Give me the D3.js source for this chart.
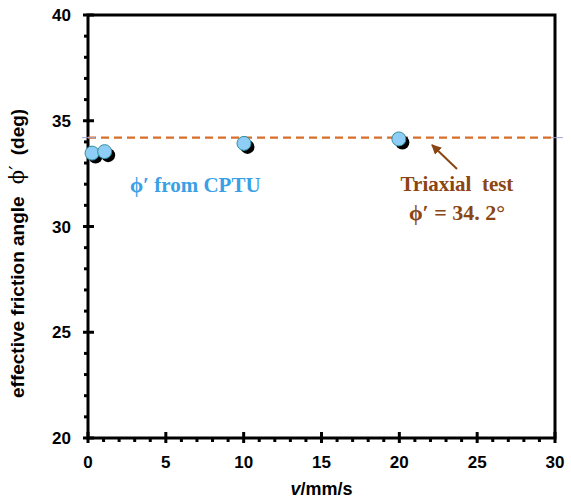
<!DOCTYPE html>
<html>
<head>
<meta charset="utf-8">
<script src="https://cdn.jsdelivr.net/npm/d3@7"></script>
<style>
  body { margin: 0; background: #fff; }
  svg { display: block; }
  text { white-space: pre; }
</style>
</head>
<body>
<svg id="chart" width="571" height="501"></svg>
<script>
// Effective friction angle from CPTU at several penetration rates
const rates = [0.26, 1.07, 10.02, 19.97];        // v (mm/s)
const phiCPTU = [33.47, 33.54, 33.93, 34.14];     // φ' (deg)
const phiTriaxial = 34.2;                         // reference value from triaxial test
const xTicks = [0, 5, 10, 15, 20, 25, 30];
const yTicks = [20, 25, 30, 35, 40];

const svg = d3.select("#chart");
const margin = { left: 88, right: 16, top: 15, bottom: 63 };
const W = 571, H = 501;

const x = d3.scaleLinear().domain([0, 30]).range([margin.left, W - margin.right]);
const y = d3.scaleLinear().domain([20, 40]).range([H - margin.bottom, margin.top]);

const tickFont = "'Liberation Sans', Arial, sans-serif";

// frame
svg.append("rect")
  .attr("x", x(0)).attr("y", y(40))
  .attr("width", x(30) - x(0)).attr("height", y(20) - y(40))
  .attr("fill", "none").attr("stroke", "#000").attr("stroke-width", 3);

// minor ticks
const xMinor = d3.range(0, 31, 1).filter(d => d % 5 !== 0);
svg.append("g").selectAll("line").data(xMinor).join("line")
  .attr("x1", d => x(d)).attr("x2", d => x(d))
  .attr("y1", y(20)).attr("y2", y(20) + 4)
  .attr("stroke", "#000").attr("stroke-width", 3);
const yMinor = d3.range(20, 41, 1).filter(d => d % 5 !== 0);
svg.append("g").selectAll("line").data(yMinor).join("line")
  .attr("x1", x(0) - 4).attr("x2", x(0))
  .attr("y1", d => y(d)).attr("y2", d => y(d))
  .attr("stroke", "#000").attr("stroke-width", 3);

// major ticks through the axis
svg.append("g").selectAll("line").data(xTicks).join("line")
  .attr("x1", d => x(d)).attr("x2", d => x(d))
  .attr("y1", y(20) - 6).attr("y2", y(20) + 5)
  .attr("stroke", "#000").attr("stroke-width", 3);
svg.append("g").selectAll("line").data(yTicks).join("line")
  .attr("x1", x(0) - 5).attr("x2", x(0) + 6)
  .attr("y1", d => y(d)).attr("y2", d => y(d))
  .attr("stroke", "#000").attr("stroke-width", 3);

// tick labels
svg.append("g").selectAll("text").data(xTicks).join("text")
  .attr("x", d => x(d)).attr("y", y(20) + 30)
  .attr("text-anchor", "middle")
  .attr("font-family", tickFont).attr("font-weight", "bold").attr("font-size", 17)
  .text(d => d);
svg.append("g").selectAll("text").data(yTicks).join("text")
  .attr("x", x(0) - 17).attr("y", d => y(d) + 6)
  .attr("text-anchor", "end")
  .attr("font-family", tickFont).attr("font-weight", "bold").attr("font-size", 17)
  .text(d => d);

// axis titles
const xt = svg.append("text")
  .attr("x", (x(0) + x(30)) / 2).attr("y", H - 6)
  .attr("text-anchor", "middle")
  .attr("font-family", tickFont).attr("font-weight", "bold").attr("font-size", 18);
xt.append("tspan").attr("font-style", "italic").text("v");
xt.append("tspan").text("/mm/s");

const yt = svg.append("text")
  .attr("transform", "translate(24, 398) rotate(-90)")
  .attr("text-anchor", "start")
  .attr("font-family", tickFont).attr("font-weight", "bold").attr("font-size", 19);
yt.append("tspan").text("effective friction angle");
yt.append("tspan").attr("dx", 12)
  .attr("font-family", "'DejaVu Serif', serif").attr("font-weight", "normal").attr("font-size", 21)
  .text("\u03d5\u2032");
yt.append("tspan").attr("dx", 10).text("(deg)");

// triaxial reference line
svg.append("line")
  .attr("x1", x(0)).attr("x2", x(30))
  .attr("y1", y(phiTriaxial)).attr("y2", y(phiTriaxial))
  .attr("stroke", "#d86e28").attr("stroke-width", 2.2)
  .attr("stroke-dasharray", "8,5");
// small marks where the reference line meets the frame
[[x(0) - 6, x(0) + 7], [x(30) - 4, x(30) + 8]].forEach(([a, b]) => {
  svg.append("line")
    .attr("x1", a).attr("x2", b)
    .attr("y1", y(phiTriaxial)).attr("y2", y(phiTriaxial))
    .attr("stroke", "#9fa3d8").attr("stroke-width", 1);
});

// data points with offset shadow
const pts = rates.map((r, i) => ({ v: r, phi: phiCPTU[i] }));
svg.append("g").selectAll("circle").data(pts).join("circle")
  .attr("cx", d => x(d.v) + 3.5).attr("cy", d => y(d.phi) + 3.5)
  .attr("r", 7).attr("fill", "#000");
svg.append("g").selectAll("circle").data(pts).join("circle")
  .attr("cx", d => x(d.v)).attr("cy", d => y(d.phi))
  .attr("r", 7).attr("fill", "#8ecdf6")
  .attr("stroke", "#2f8f9d").attr("stroke-width", 1);

// annotations
const serif = "'Liberation Serif', 'Times New Roman', serif";
svg.append("text")
  .attr("x", 130).attr("y", 192)
  .attr("font-family", serif).attr("font-weight", "bold").attr("font-size", 21)
  .attr("fill", "#3aa0e6")
  .text("\u03d5\u2032 from CPTU");

const brown = "#8b4513";
svg.append("defs").append("marker")
  .attr("id", "ah").attr("viewBox", "0 0 10 10")
  .attr("refX", 9).attr("refY", 5)
  .attr("markerWidth", 5).attr("markerHeight", 5)
  .attr("orient", "auto")
  .append("path").attr("d", "M0,0 L10,5 L0,10 Z").attr("fill", brown);
svg.append("line")
  .attr("x1", 457).attr("y1", 169).attr("x2", 432).attr("y2", 145)
  .attr("stroke", brown).attr("stroke-width", 2)
  .attr("marker-end", "url(#ah)");

svg.append("text")
  .attr("x", 457).attr("y", 191)
  .attr("text-anchor", "middle")
  .attr("font-family", serif).attr("font-weight", "bold").attr("font-size", 21)
  .attr("fill", brown)
  .text("Triaxial  test");
svg.append("text")
  .attr("x", 457).attr("y", 220)
  .attr("text-anchor", "middle")
  .attr("font-family", serif).attr("font-weight", "bold").attr("font-size", 22)
  .attr("fill", brown)
  .text(`\u03d5\u2032 = ${String(phiTriaxial).replace(".", ". ")}\u00b0`);
</script>
</body>
</html>
